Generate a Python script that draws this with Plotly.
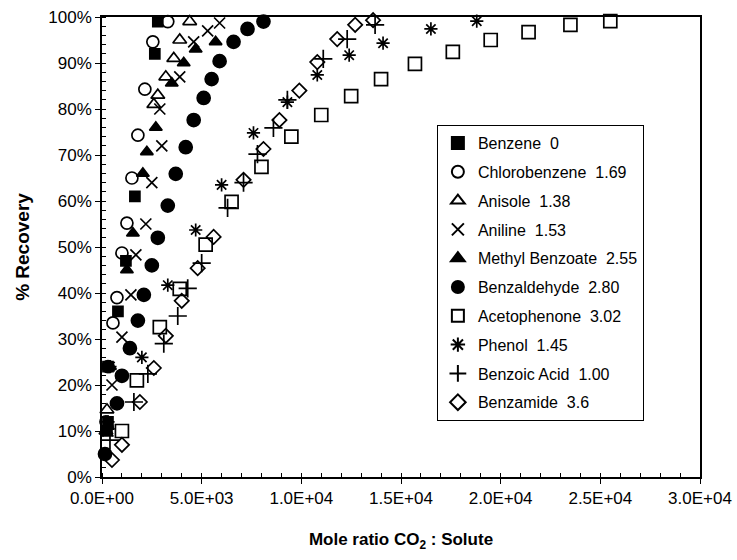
import plotly.graph_objects as go

# ---- data (x = mole ratio CO2:solute, y = % recovery) ----
benzene_x = [250, 300, 300, 800, 1200, 1650, 2650, 2800]
benzene_y = [10, 12, 24, 36, 47, 61, 92, 99]

chlorobenzene_x = [200, 300, 550, 750, 1000, 1250, 1500, 1800, 2150, 2550, 3300]
chlorobenzene_y = [12, 24, 33.5, 39, 48.7, 55.2, 65, 74.3, 84.3, 94.6, 99]

anisole_x = [200, 250, 2600, 2800, 3200, 3600, 3900, 4400]
anisole_y = [10, 14.6, 81, 83, 87, 91, 95, 99]

aniline_x = [300, 500, 1000, 1450, 1700, 2200, 2500, 3000, 2900, 3900, 4600, 5300, 5900]
aniline_y = [10, 20, 30.4, 39.6, 48.3, 55, 64, 72, 80, 87, 94.6, 97, 98.7]

methylbenzoate_x = [300, 400, 1250, 1550, 2050, 2250, 2700, 3500, 4100, 4700, 5700]
methylbenzoate_y = [11, 24, 45, 53, 66, 70.7, 76, 85.6, 90, 93, 94.6]

benzaldehyde_x = [150, 750, 1000, 1400, 1800, 2100, 2500, 2800, 3300, 3700, 4200, 4600, 5100, 5500, 5900, 6600, 7300, 8100]
benzaldehyde_y = [5, 16, 22, 28, 34, 39.6, 46, 52, 59, 65.9, 71.7, 77.6, 82.4, 86.5, 90.4, 94.6, 97.4, 99]

acetophenone_x = [1000, 1750, 2900, 3900, 5200, 6500, 8000, 9500, 11000, 12500, 14000, 15700, 17600, 19500, 21400, 23500, 25500]
acetophenone_y = [10, 21, 32.6, 40.9, 50.5, 59.8, 67.4, 74, 78.7, 82.8, 86.5, 89.8, 92.4, 95, 96.7, 98.3, 99.1]

phenol_x = [300, 400, 2000, 3300, 4700, 6000, 7600, 9300, 10800, 12400, 14100, 16500, 18800]
phenol_y = [12, 24, 26, 41.7, 53.7, 63.5, 74.8, 81.5, 87.4, 91.7, 94.3, 97.4, 99.1]

benzoicacid_x = [400, 1600, 2300, 3100, 3800, 4300, 5000, 6300, 7100, 7800, 8600, 9300, 11100, 12300, 13700]
benzoicacid_y = [8, 16.3, 22.4, 29, 35, 41, 46.5, 58.5, 64, 70.2, 75.9, 82, 90.9, 95.2, 98.3]

benzamide_x = [500, 1000, 1900, 2600, 3200, 4000, 4800, 5600, 7100, 8100, 8900, 9900, 10800, 11800, 12700, 13600]
benzamide_y = [3.7, 7, 16.3, 23.7, 30.7, 38.3, 45.4, 52.2, 64.6, 71.3, 77.6, 84, 90.2, 95.2, 98.3, 99.3]

series_names = ["Benzene  0", "Chlorobenzene  1.69", "Anisole  1.38", "Aniline  1.53",
                "Methyl Benzoate  2.55", "Benzaldehyde  2.80", "Acetophenone  3.02",
                "Phenol  1.45", "Benzoic Acid  1.00", "Benzamide  3.6"]

x_tick_vals = [0, 5000, 10000, 15000, 20000, 25000, 30000]
x_tick_text = ["0.0E+00", "5.0E+03", "1.0E+04", "1.5E+04", "2.0E+04", "2.5E+04", "3.0E+04"]
y_tick_vals = [0, 10, 20, 30, 40, 50, 60, 70, 80, 90, 100]
y_tick_text = ["0%", "10%", "20%", "30%", "40%", "50%", "60%", "70%", "80%", "90%", "100%"]

# ---- styling ----
xs = [benzene_x, chlorobenzene_x, anisole_x, aniline_x, methylbenzoate_x,
      benzaldehyde_x, acetophenone_x, phenol_x, benzoicacid_x, benzamide_x]
ys = [benzene_y, chlorobenzene_y, anisole_y, aniline_y, methylbenzoate_y,
      benzaldehyde_y, acetophenone_y, phenol_y, benzoicacid_y, benzamide_y]
symbols = ["square", "circle-open", "triangle-up-open", "x-thin-open", "triangle-up",
           "circle", "square-open", "asterisk-open", "cross-thin-open", "diamond-open"]
sizes = [10, 12, 12, 11, 11, 13, 13, 11, 13, 11]

fig = go.Figure()
for name, x, y, sym, sz in zip(series_names, xs, ys, symbols, sizes):
    fig.add_trace(go.Scatter(
        x=x, y=y, mode="markers", name=name, cliponaxis=False,
        legendgroup=name,
        marker=dict(symbol=sym, size=sz, color="black",
                    line=dict(color="black", width=1.7)),
    ))

font_family = "Liberation Sans, Arial, sans-serif"
fig.update_layout(
    width=737, height=560,
    margin=dict(l=102, r=37, t=17, b=83, autoexpand=False),
    paper_bgcolor="white", plot_bgcolor="white",
    font=dict(family=font_family, size=17, color="black"),
    showlegend=True,
    legend=dict(x=0.56, y=0.765, xanchor="left", yanchor="top",
                bgcolor="white", bordercolor="black", borderwidth=1,
                font=dict(size=16), itemsizing="constant",
                tracegroupgap=5, itemwidth=30),
    xaxis=dict(range=[0, 30000], tickmode="array", tickvals=x_tick_vals,
               ticktext=x_tick_text, automargin=False,
               showgrid=False, zeroline=False, showline=True, linecolor="black",
               linewidth=1.5, mirror=True, ticks="outside", ticklen=5,
               tickcolor="black", tickfont=dict(size=17),
               minor=dict(dtick=1000, ticks="inside", ticklen=4, tickcolor="black"),
               title=dict(text="<b>Mole ratio CO<sub>2</sub> : Solute</b>",
                          font=dict(size=17), standoff=26)),
    yaxis=dict(range=[0, 100], tickmode="array", tickvals=y_tick_vals,
               ticktext=y_tick_text, automargin=False,
               showgrid=False, zeroline=False, showline=True, linecolor="black",
               linewidth=1.5, mirror=True, ticks="outside", ticklen=5,
               tickcolor="black", tickfont=dict(size=17),
               minor=dict(dtick=2, ticks="inside", ticklen=4, tickcolor="black"),
               title=dict(text="<b>% Recovery</b>", font=dict(size=19), standoff=14)),
)

fig.write_html("out.html", config={"displayModeBar": False},
               post_script="document.body.style.margin='0';")
